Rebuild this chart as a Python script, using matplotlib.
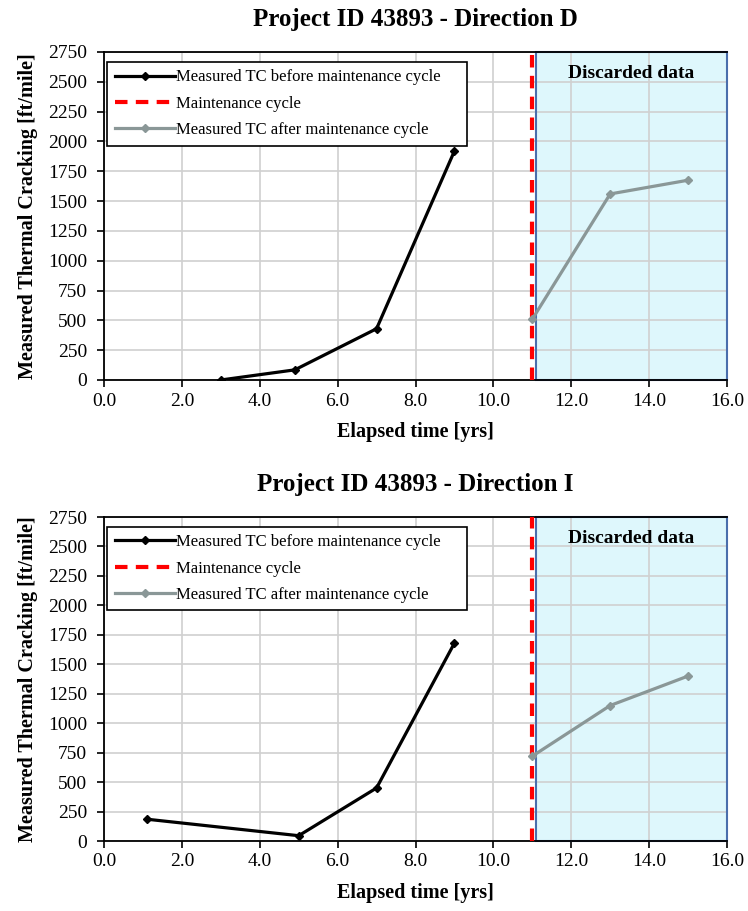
import matplotlib
matplotlib.use("Agg")
import matplotlib.pyplot as plt
from matplotlib.patches import Rectangle

plt.rcParams['font.family'] = ['Liberation Serif', 'DejaVu Serif']

# Direction D
d_before_t = [3.0, 4.9, 7.0, 9.0]
d_before_tc = [0, 85, 430, 1920]
d_after_t = [11.0, 13.0, 15.0]
d_after_tc = [510, 1560, 1675]

# Direction I
i_before_t = [1.1, 5.0, 7.0, 9.0]
i_before_tc = [185, 45, 450, 1680]
i_after_t = [11.0, 13.0, 15.0]
i_after_tc = [720, 1150, 1400]

maintenance_t = 11.0
discard_start = 11.1
x_max = 16.0
y_max = 2750

titles = ["Project ID 43893 - Direction D", "Project ID 43893 - Direction I"]
x_ticks = [0, 2, 4, 6, 8, 10, 12, 14, 16]
y_ticks = list(range(0, 2751, 250))

fig = plt.figure(figsize=(7.48, 9.11), dpi=100)
W, H = 748, 911

def add_ax(left, top, right, bottom):
    return fig.add_axes([left / W, 1 - bottom / H, (right - left) / W, (bottom - top) / H])

axes = [add_ax(104, 52, 727, 380), add_ax(104, 517, 727, 841)]
datasets = [(d_before_t, d_before_tc, d_after_t, d_after_tc),
            (i_before_t, i_before_tc, i_after_t, i_after_tc)]

for ax, title, (bt, bv, at, av) in zip(axes, titles, datasets):
    ax.set_xlim(0, x_max)
    ax.set_ylim(0, y_max)
    ax.set_xticks(x_ticks)
    ax.set_xticklabels([f"{v:.1f}" for v in x_ticks])
    ax.set_yticks(y_ticks)
    ax.grid(True, color='#d0d0d0', lw=1.2)
    ax.tick_params(labelsize=14, direction='out', length=5, width=1.2)
    ax.tick_params(axis='x', pad=4)
    ax.tick_params(axis='y', pad=7)
    for s in ax.spines.values():
        s.set_linewidth(1.3)
        s.set_color('black')
    ax.spines['right'].set_visible(False)

    # discarded-data region
    ax.add_patch(Rectangle((discard_start, 0), x_max - discard_start, y_max,
                           facecolor='#c9f3fb', alpha=0.6, edgecolor='none', zorder=1))
    ax.add_patch(Rectangle((discard_start, 0), x_max - discard_start, y_max,
                           facecolor='none', edgecolor='#4a6eac', lw=1.5, zorder=2,
                           clip_on=False))
    ax.text((discard_start + x_max) / 2, y_max - 180, "Discarded data",
            ha='center', va='center', fontsize=14, fontweight='bold', zorder=5)

    l1, = ax.plot(bt, bv, color='black', lw=2.3, marker='D', ms=4, zorder=4,
                  label='Measured TC before maintenance cycle')
    l2 = ax.axvline(maintenance_t, color='#ff0000', lw=3, dashes=(3, 2), zorder=4,
                    label='Maintenance cycle')
    l3, = ax.plot(at, av, color='#8a9797', lw=2.3, marker='D', ms=4, zorder=4,
                  label='Measured TC after maintenance cycle')

    leg = ax.legend(handles=[l1, l2, l3], loc='upper left',
                    bbox_to_anchor=(0.005, 0.0, 0.578, 0.970), mode='expand',
                    fontsize=12, frameon=True, fancybox=False, edgecolor='black',
                    framealpha=1, handlelength=3.6, handletextpad=0.1,
                    borderpad=0.45, labelspacing=0.62, borderaxespad=0)
    leg.get_frame().set_linewidth(1.2)
    leg.set_zorder(6)

    ax.set_title(title, fontsize=18, fontweight='bold', pad=19)
    ax.set_xlabel("Elapsed time [yrs]", fontsize=14.5, fontweight='bold', labelpad=9)
    ax.set_ylabel("Measured Thermal Cracking [ft/mile]", fontsize=14.5, fontweight='bold',
                  labelpad=7)

fig.savefig("out.png", dpi=100)
